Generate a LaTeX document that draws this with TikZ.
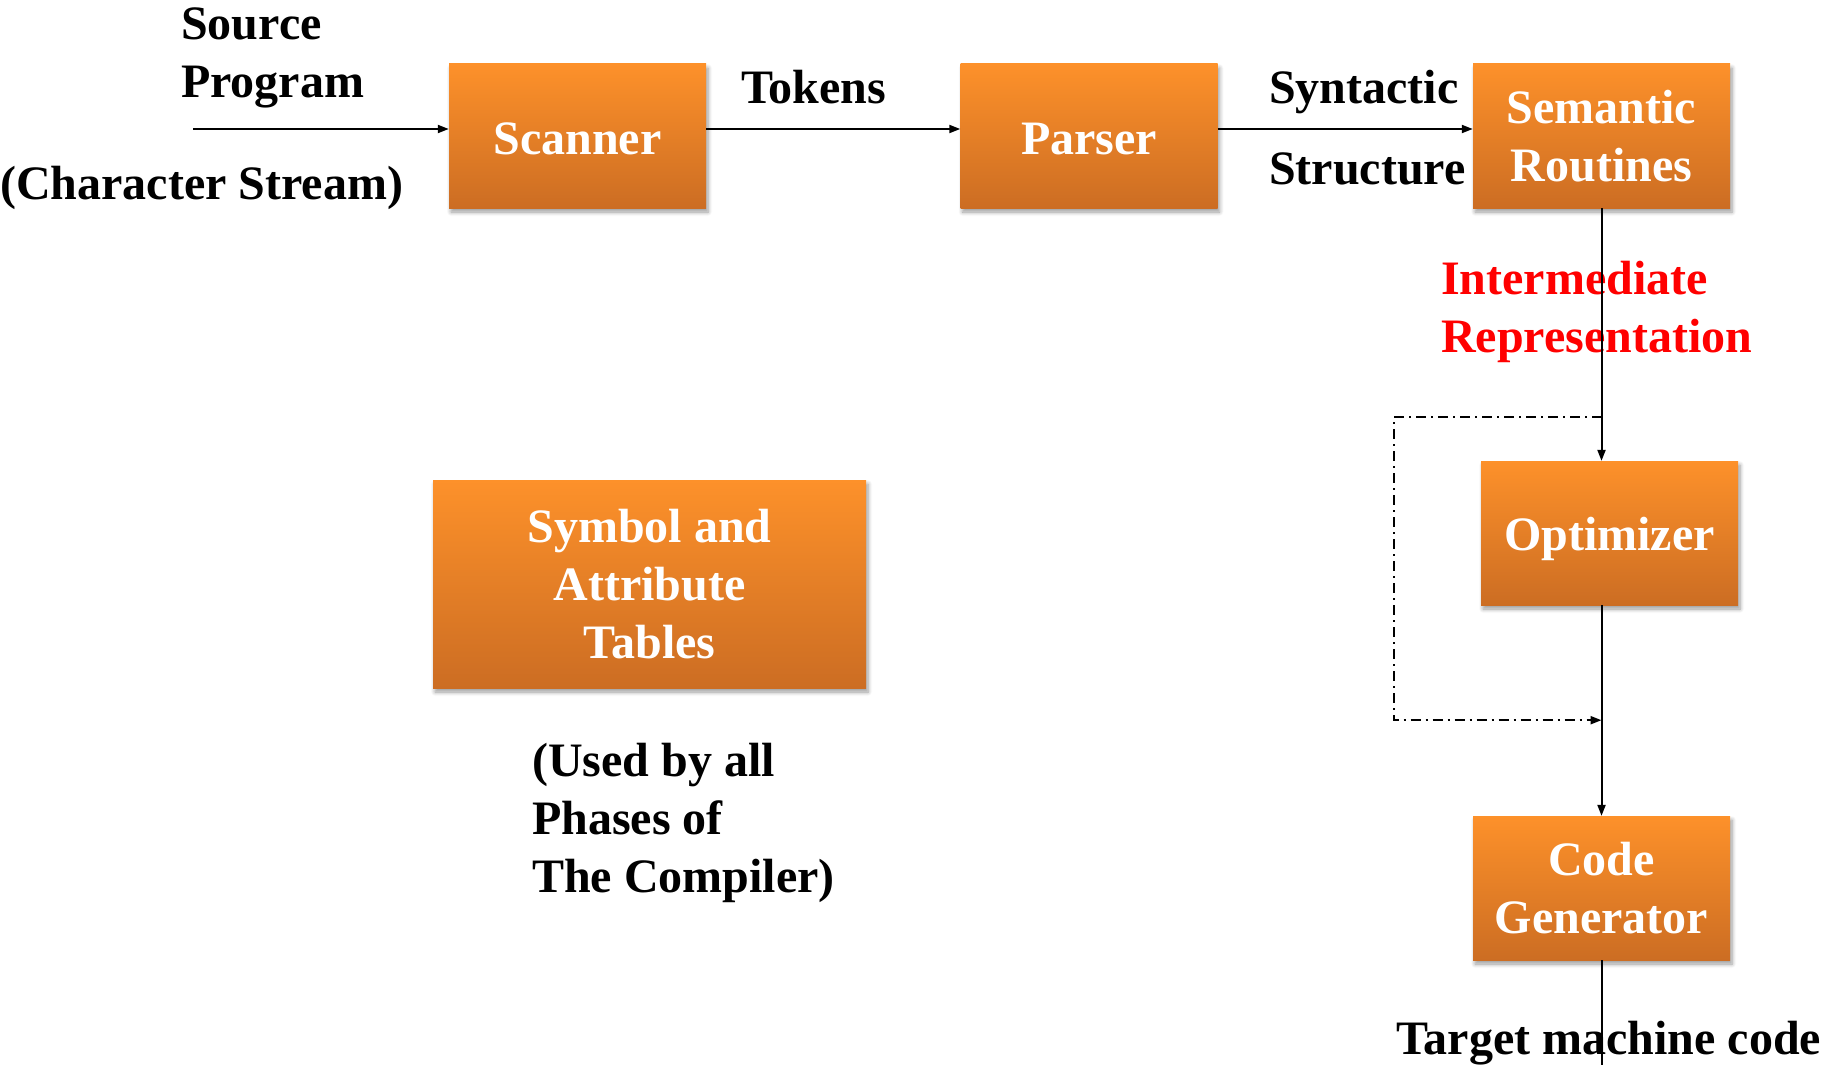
\documentclass[tikz,border=0pt]{standalone}
\usepackage{fontspec}
\setmainfont{Liberation Serif}
\usetikzlibrary{arrows.meta,shadows.blur,calc}

\definecolor{boxtop}{RGB}{253,145,42}
\definecolor{boxbottom}{RGB}{204,109,35}
\definecolor{irred}{RGB}{255,0,0}

% lower a label inside its box without changing the box size
\newcommand{\sinkby}[2]{\raisebox{-#1}[\height][\depth]{#2}}

\tikzset{
  phase/.style={rectangle, inner sep=0pt, align=center,
    top color=boxtop, bottom color=boxbottom, draw=none,
    text=white, font=\fontsize{48}{58}\selectfont\bfseries,
    blur shadow={shadow xshift=2pt, shadow yshift=-4pt,
      shadow blur radius=4pt, shadow blur steps=6, shadow opacity=40}},
  % multi-line labels: base anchor sits on the last line
  label/.style={inner sep=0pt, align=left, anchor=base west,
    font=\fontsize{48}{58}\selectfont\bfseries},
  flow/.style={line width=2pt, -{Triangle[length=11pt,width=8pt]}},
  plain/.style={line width=2pt},
  loop/.style={line width=2pt, dash pattern=on 10pt off 5pt on 2pt off 5pt,
    -{Triangle[length=11pt,width=8pt]}}
}

\begin{document}
\begin{tikzpicture}[x=1pt,y=-1pt]
  \useasboundingbox (0,0) rectangle (1835,1065);

  % compiler phases
  \node[phase, minimum width=257pt, minimum height=144pt] (scan) at (577.5,136) {\sinkby{3pt}{Scanner}};
  \node[phase, minimum width=257pt, minimum height=144pt] (parse) at (1089,136) {\sinkby{3pt}{Parser}};
  \node[phase, minimum width=257pt, minimum height=144pt] (sem) at (1601.5,136) {Semantic\\Routines};
  \node[phase, minimum width=257pt, minimum height=144pt] (opt) at (1609.5,533) {\sinkby{6pt}{Optimizer}};
  \node[phase, minimum width=257pt, minimum height=144pt] (gen) at (1601.5,888) {Code\\Generator};
  \node[phase, minimum width=433pt, minimum height=208pt] (tab) at (649.5,584) {Symbol and\\Attribute\\Tables};

  % free labels
  \node[label] (src) at (181,97) {Source\\Program};
  \node[label] (chars) at (0,199) {(Character Stream)};
  \node[label] (tok) at (741,103) {Tokens};
  \node[label] (syn) at (1269,103) {Syntactic};
  \node[label] (struct) at (1269,184) {Structure};
  \node[label, text=irred] (ir) at (1441,352) {Intermediate\\Representation};
  \node[label] (used) at (532,892) {(Used by all\\Phases of\\The Compiler)};
  \node[label] (target) at (1396,1054) {Target machine code};

  % connectors
  \coordinate (in) at (193,129);
  \coordinate (out) at ($(gen.south)+(0,105)$);
  \draw[flow] (in) -- (in -| scan.west);
  \draw[flow] (scan.east |- in) -- (parse.west |- in);
  \draw[flow] (parse.east |- in) -- (sem.west |- in);
  \draw[flow] (sem.south) -- (sem.south |- opt.north);
  \draw[flow] (opt.south -| sem.south) -- (gen.north);
  \draw[plain] (gen.south) -- (out);

  % optional pass around the optimizer
  \coordinate (fork) at ($(sem.south)+(0,209)$);
  \coordinate (join) at ($(sem.south)+(0,512)$);
  \draw[loop] (fork) -- ++(-208,0) |- (join);
\end{tikzpicture}
\end{document}
